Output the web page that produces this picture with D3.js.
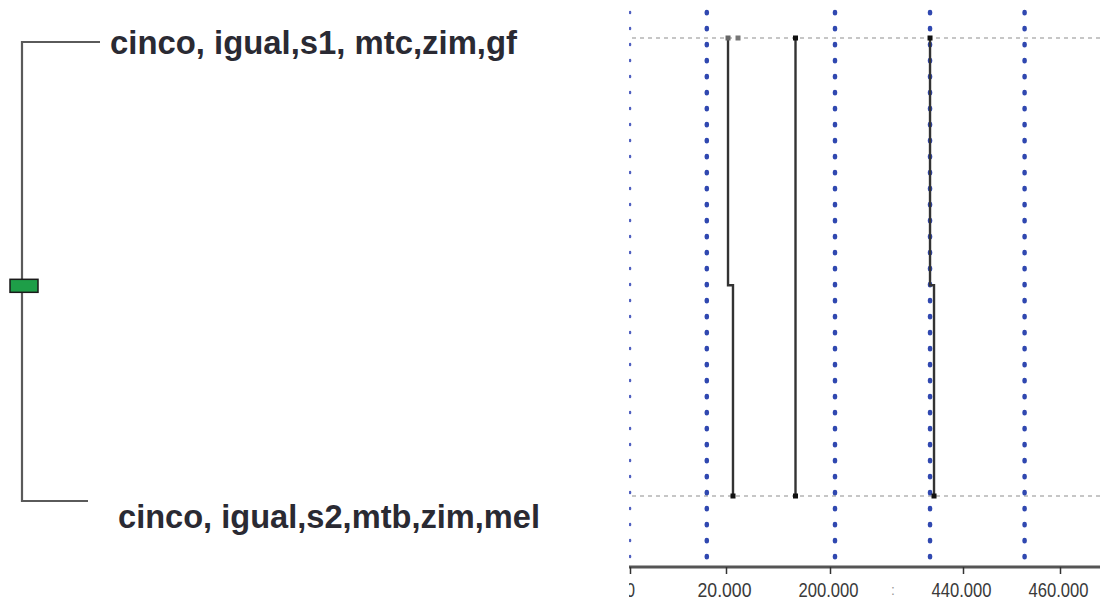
<!DOCTYPE html>
<html>
<head>
<meta charset="utf-8">
<script src="https://cdn.jsdelivr.net/npm/d3@7"></script>
<style>
  html, body { margin: 0; padding: 0; background: #fff; }
  svg { display: block; }
</style>
</head>
<body>
<svg id="chart" width="1100" height="605"></svg>
<script>
// ---- data ----
const categories = ["cinco, igual,s1, mtc,zim,gf", "cinco, igual,s2,mtb,zim,mel"];
const tickValues = [0, 20000, 200000, 440000, 460000];
const tickLabels = ["0", "20.000", "200.000", "440.000", "460.000"];
const markerValues = [0, 16000, 209000, 380500, 452700];          // blue dotted verticals
const seriesTop = [23500, 140300, 380500];                        // value on first row
const seriesBottom = [32100, 140300, 387700];                     // value on second row
const extraTopMarks = [40800];                                    // small grey square on row 1
const nodeFraction = [0.54];                                      // position of the join node

// ---- layout ----
const svg = d3.select("#chart");
const W = 1100, H = 605;
const plotLeft = 629, axisY = 567;

const x = d3.scaleLinear().domain(tickValues).range([630, 726, 830, 963, 1060]);
const yRight = d3.scalePoint().domain(categories).range([38, 496]);
const yLeft = d3.scalePoint().domain(categories).range([42, 501]);
const nodeY = d3.scaleLinear().domain([0, 1]).range([38, 496]);

// ---- left dendrogram ----
const left = svg.append("g");
const bx = 22;
const branchEnd = [100, 88];
left.append("path")
  .attr("d", `M${branchEnd[0]},${yLeft(categories[0])}H${bx}V${yLeft(categories[1])}H${branchEnd[1]}`)
  .attr("fill", "none").attr("stroke", "#5a5a5a").attr("stroke-width", 2.2);
left.append("rect")
  .attr("x", 10).attr("y", nodeY(nodeFraction[0]) - 6)
  .attr("width", 28).attr("height", 13)
  .attr("fill", "#1e9e48").attr("stroke", "#1a1a1a").attr("stroke-width", 1.5);

const labelX = [110, 118], labelW = [407, 422], labelDy = [12, 27];
left.selectAll("text.lab").data(categories).join("text")
  .attr("class", "lab")
  .attr("x", (d, i) => labelX[i])
  .attr("y", (d, i) => yLeft(d) + labelDy[i])
  .attr("textLength", (d, i) => labelW[i])
  .attr("lengthAdjust", "spacingAndGlyphs")
  .attr("font-family", "Liberation Sans, Arial, sans-serif")
  .attr("font-weight", "bold")
  .attr("font-size", 33)
  .attr("fill", "#2a2a33")
  .text(d => d);

// ---- right panel ----
svg.append("clipPath").attr("id", "clipR")
  .append("rect").attr("x", plotLeft).attr("y", 0).attr("width", W - plotLeft).attr("height", H);
const right = svg.append("g").attr("clip-path", "url(#clipR)");

// grey dashed row lines
right.selectAll("line.row").data(categories).join("line")
  .attr("class", "row")
  .attr("x1", 632).attr("x2", W)
  .attr("y1", d => yRight(d)).attr("y2", d => yRight(d))
  .attr("stroke", "#b4b4b4").attr("stroke-width", 1.3).attr("stroke-dasharray", "4,4");

// blue dotted verticals
right.selectAll("line.mark").data(markerValues).join("line")
  .attr("class", "mark")
  .attr("x1", d => x(d)).attr("x2", d => x(d))
  .attr("y1", 12).attr("y2", axisY)
  .attr("stroke", (d, i) => i === 0 ? "#5060c0" : "#3048b0")
  .attr("stroke-width", (d, i) => i === 0 ? 2.5 : 4.5)
  .attr("stroke-linecap", "round")
  .attr("stroke-dasharray", (d, i) => i === 0 ? "1,15" : "1.2,14.8");

// step lines
const stepY = nodeY(nodeFraction[0]);
right.selectAll("path.step").data(seriesTop).join("path")
  .attr("class", "step")
  .attr("d", (d, i) => `M${x(d)},${yRight(categories[0])}V${stepY}H${x(seriesBottom[i])}V${yRight(categories[1])}`)
  .attr("fill", "none").attr("stroke", "#333").attr("stroke-width", 2.4);

// end markers
right.selectAll("rect.topm").data(seriesTop).join("rect")
  .attr("class", "topm")
  .attr("x", d => x(d) - 2.5).attr("y", yRight(categories[0]) - 2.5)
  .attr("width", 5).attr("height", 5)
  .attr("fill", (d, i) => i === 0 ? "#666" : "#111");
right.selectAll("rect.extra").data(extraTopMarks).join("rect")
  .attr("class", "extra")
  .attr("x", d => x(d) - 2.5).attr("y", yRight(categories[0]) - 2.5)
  .attr("width", 5).attr("height", 5).attr("fill", "#777");
right.selectAll("rect.botm").data(seriesBottom).join("rect")
  .attr("class", "botm")
  .attr("x", d => x(d) - 2.5).attr("y", yRight(categories[1]) - 2.5)
  .attr("width", 5).attr("height", 5).attr("fill", "#111");

// axis
const axis = d3.axisBottom(x).tickValues(tickValues).tickSize(7).tickFormat((d, i) => tickLabels[i]);
const gAxis = right.append("g").attr("transform", `translate(0,${axisY})`).call(axis);
gAxis.select(".domain").attr("d", `M${plotLeft - 1},0H${W}`).attr("stroke", "#555").attr("stroke-width", 3);
gAxis.selectAll(".tick line").attr("stroke", "#333").attr("stroke-width", 1.5);
gAxis.selectAll(".tick text")
  .attr("y", 30).attr("dy", 0).attr("x", -2)
  .attr("font-family", "Liberation Sans Narrow, Liberation Sans, Arial, sans-serif")
  .attr("font-size", 20)
  .attr("fill", "#3a3a3a")
  .attr("textLength", (d, i) => i === 0 ? null : (tickLabels[i].length > 6 ? 60 : 54))
  .attr("lengthAdjust", "spacingAndGlyphs");
gAxis.selectAll(".tick text").filter((d, i) => i === 0).attr("x", 0).attr("textLength", 9);
// small artefact mark between ticks
right.append("text").attr("x", 893).attr("y", 595).attr("text-anchor", "middle")
  .attr("font-family", "Liberation Sans, Arial, sans-serif").attr("font-size", 14)
  .attr("fill", "#999").text(":");
</script>
</body>
</html>
